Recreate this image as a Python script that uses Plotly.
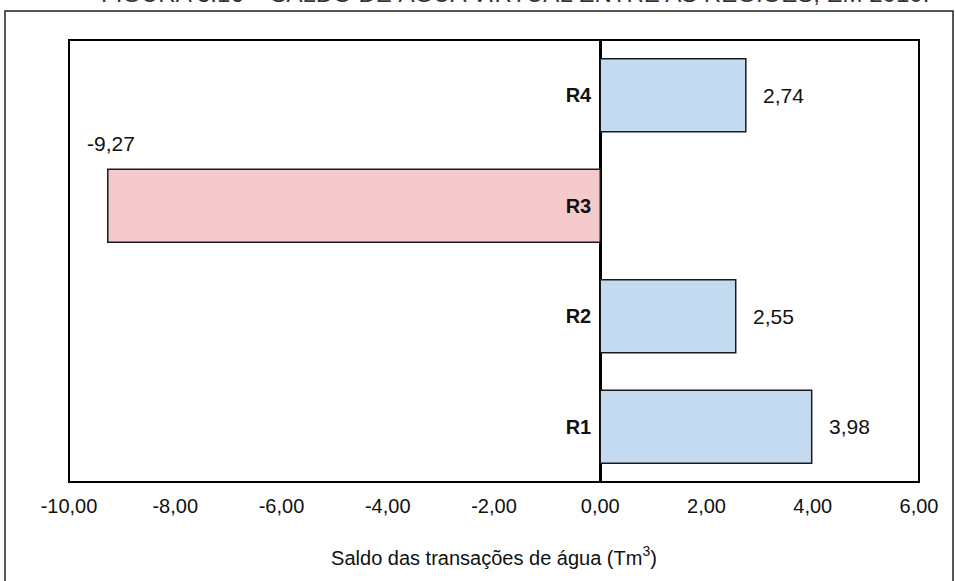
import plotly.graph_objects as go

categories = ["R1", "R2", "R3", "R4"]
values = [3.98, 2.55, -9.27, 2.74]
tick_vals = [-10, -8, -6, -4, -2, 0, 2, 4, 6]
tick_text = ["-10,00", "-8,00", "-6,00", "-4,00", "-2,00", "0,00", "2,00", "4,00", "6,00"]
x_title = "Saldo das transações de água (Tm<sup>3</sup>)"
fig_title = "FIGURA 3.16 – SALDO DE ÁGUA VIRTUAL ENTRE AS REGIÕES, EM 2010."

blue_fill = "#c4daf0"
red_fill = "#f5cacd"
colors = [blue_fill if v >= 0 else red_fill for v in values]

FONT = "Liberation Sans, Arial, sans-serif"

fig = go.Figure()
fig.add_trace(go.Bar(
    y=categories, x=values, orientation="h",
    marker=dict(color=colors, line=dict(color="#1a1a1a", width=1.5)),
    width=0.66, showlegend=False, hoverinfo="x+y",
))

def fmt(v):
    return f"{v:.2f}".replace(".", ",")

for c, v in zip(categories, values):
    if v >= 0:
        fig.add_annotation(x=v, y=c, xref="x", yref="y", text=fmt(v),
                           showarrow=False, xanchor="left", yanchor="middle",
                           xshift=15, font=dict(family=FONT, size=21, color="#111"))
    else:
        fig.add_annotation(x=v, y=c, xref="x", yref="y", text=fmt(v),
                           showarrow=False, xanchor="center", yanchor="middle",
                           yshift=62, xshift=3, font=dict(family=FONT, size=21, color="#111"))

# plot-area border
fig.add_shape(type="rect", xref="paper", yref="paper", x0=0, y0=0, x1=1, y1=1,
              line=dict(color="black", width=2), layer="above")
# outer chart frame
fig.add_shape(type="rect", xref="paper", yref="paper",
              x0=-0.0753, y0=-0.24, x1=1.04, y1=1.0656,
              line=dict(color="#222", width=1.5), layer="below")

fig.add_annotation(xref="paper", yref="paper", x=0.525, y=1.0695, text=fig_title,
                   showarrow=False, xanchor="center", yanchor="bottom",
                   font=dict(family=FONT, size=24, color="#333"))

fig.update_layout(
    width=955, height=581,
    margin=dict(l=69, r=36, t=40, b=99),
    paper_bgcolor="white", plot_bgcolor="white",
    font=dict(family=FONT, size=20, color="#111"),
    xaxis=dict(range=[-10, 6], tickvals=tick_vals, ticktext=tick_text,
               showgrid=False, zeroline=True, zerolinecolor="black", zerolinewidth=3,
               showline=False, ticks="", ticklabelstandoff=10,
               tickfont=dict(family=FONT, size=20, color="#111"),
               title=dict(text=x_title, standoff=34,
                          font=dict(family=FONT, size=20, color="#111")),
               automargin=False),
    yaxis=dict(categoryorder="array", categoryarray=categories,
               anchor="free", position=0.625, side="left",
               showgrid=False, zeroline=False, showline=False, ticks="",
               ticklabelstandoff=9,
               tickfont=dict(family=FONT, size=20, color="#111", weight="bold"),
               automargin=False),
    bargap=0.34,
)

fig.write_html("out.html", config={"displayModeBar": False},
               post_script="document.body.style.margin='0';document.body.style.overflow='hidden';")
